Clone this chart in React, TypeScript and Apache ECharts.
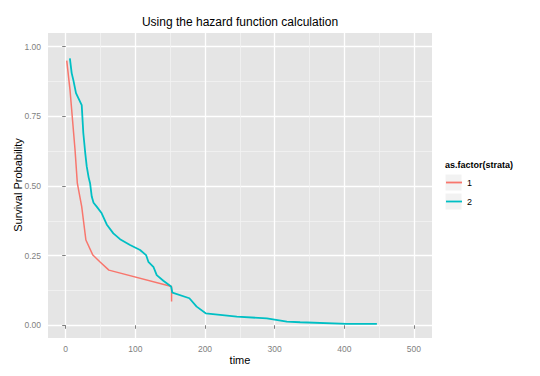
import React, { useEffect, useRef } from "react";
import * as echarts from "echarts";

const xTicks = [0, 100, 200, 300, 400, 500];
const xMinor = [50, 150, 250, 350, 450];
const yTicks = [0, 0.25, 0.5, 0.75, 1];
const yMinor = [0.125, 0.375, 0.625, 0.875];

const strataNames = ["1", "2"];

const time1 = [1.5, 6.2, 13.4, 16.7, 23, 29, 39, 49, 62, 152, 152];
const surv1 = [0.95, 0.845, 0.63, 0.51, 0.426, 0.306, 0.252, 0.228, 0.198, 0.139, 0.085];

const time2 = [6, 8.6, 11, 14.8, 23, 25.3, 28, 30.2, 33, 35, 37.4, 40, 44.5, 51.7, 58.9, 68.4, 78, 92.4, 106.8, 115.4, 118.7, 125.9, 130.7, 140.2, 151.3, 153.2, 177.6, 188, 201, 245.7, 288.8, 317.5, 336.6, 403.7, 446.8];
const surv2 = [0.958, 0.905, 0.88, 0.833, 0.79, 0.69, 0.62, 0.57, 0.53, 0.51, 0.462, 0.44, 0.426, 0.402, 0.362, 0.33, 0.309, 0.288, 0.27, 0.252, 0.228, 0.21, 0.18, 0.16, 0.139, 0.117, 0.097, 0.067, 0.043, 0.031, 0.025, 0.013, 0.011, 0.005, 0.005];

const COLORS = ["#F8766D", "#00BFC4"];
const FONT = "Liberation Sans, Arial, sans-serif";

export default function App() {
  const ref = useRef<HTMLDivElement>(null);
  useEffect(() => {
    if (!ref.current) return;
    const chart = echarts.init(ref.current, null, { renderer: "svg" });
    const xMin = -25.4, xMax = 525.9, yMin = -0.0456, yMax = 1.049;
    const mkX = (minor: boolean) => ({
      type: "value",
      min: xMin,
      max: xMax,
      position: "bottom",
      axisLine: { show: false },
      axisTick: minor
        ? { show: false, customValues: xMinor }
        : { show: true, length: 3.5, lineStyle: { color: "#7F7F7F", width: 1 }, customValues: xTicks },
      axisLabel: minor
        ? { show: false }
        : { show: true, customValues: xTicks, margin: 6, fontSize: 8.5, color: "#7F7F7F", fontFamily: FONT },
      splitLine: { show: true, lineStyle: { color: minor ? "#F2F2F2" : "#FFFFFF", width: minor ? 0.8 : 1.3 } },
    });
    const mkY = (minor: boolean) => ({
      type: "value",
      min: yMin,
      max: yMax,
      position: "left",
      axisLine: { show: false },
      axisTick: minor
        ? { show: false, customValues: yMinor }
        : { show: true, length: 3.5, lineStyle: { color: "#7F7F7F", width: 1 }, customValues: yTicks },
      axisLabel: minor
        ? { show: false }
        : {
            show: true,
            customValues: yTicks,
            margin: 7,
            fontSize: 8.5,
            color: "#7F7F7F",
            fontFamily: FONT,
            formatter: (v: number) => v.toFixed(2),
          },
      splitLine: { show: true, lineStyle: { color: minor ? "#F2F2F2" : "#FFFFFF", width: minor ? 0.8 : 1.3 } },
    });
    chart.setOption({
      animation: false,
      backgroundColor: "#FFFFFF",
      grid: {
        left: 48,
        top: 33,
        right: 108,
        bottom: 38,
        show: true,
        backgroundColor: "#E5E5E5",
        borderWidth: 0,
      },
      xAxis: [mkX(true), mkX(false)],
      yAxis: [mkY(true), mkY(false)],
      legend: {
        orient: "vertical",
        left: 446,
        top: 176.5,
        padding: 0,
        icon: "rect",
        itemWidth: 16,
        itemHeight: 1.8,
        itemGap: 7,
        data: strataNames,
        textStyle: { fontSize: 9, lineHeight: 12, color: "#000000", fontFamily: FONT },
      },
      graphic: [
        { type: "rect", shape: { x: 445, y: 174, width: 17, height: 17 }, style: { fill: "#F2F2F2", stroke: "#FFFFFF" }, z: -1 },
        { type: "rect", shape: { x: 445, y: 193, width: 17, height: 17 }, style: { fill: "#F2F2F2", stroke: "#FFFFFF" }, z: -1 },
        {
          type: "text",
          x: 240,
          y: 22,
          style: { text: "Using the hazard function calculation", fontSize: 12, fill: "#000000", fontFamily: FONT, align: "center", verticalAlign: "middle" },
        },
        {
          type: "text",
          x: 240,
          y: 360,
          style: { text: "time", fontSize: 11, fill: "#000000", fontFamily: FONT, align: "center", verticalAlign: "middle" },
        },
        {
          type: "text",
          x: 18,
          y: 185,
          rotation: Math.PI / 2,
          style: { text: "Survival Probability", fontSize: 11, fill: "#000000", fontFamily: FONT, align: "center", verticalAlign: "middle" },
        },
        {
          type: "text",
          x: 445,
          y: 165,
          style: { text: "as.factor(strata)", fontSize: 9, fontWeight: "bold", fill: "#000000", fontFamily: FONT, align: "left", verticalAlign: "middle" },
        },
      ],
      series: [
        {
          name: strataNames[0],
          type: "line",
          xAxisIndex: 1,
          yAxisIndex: 1,
          data: time1.map((t, i) => [t, surv1[i]]),
          symbol: "none",
          lineStyle: { color: COLORS[0], width: 1.5 },
          itemStyle: { color: COLORS[0] },
          z: 3,
        },
        {
          name: strataNames[1],
          type: "line",
          xAxisIndex: 1,
          yAxisIndex: 1,
          data: time2.map((t, i) => [t, surv2[i]]),
          symbol: "none",
          lineStyle: { color: COLORS[1], width: 1.8 },
          itemStyle: { color: COLORS[1] },
          z: 4,
        },
      ],
    });
    return () => chart.dispose();
  }, []);
  return <div ref={ref} style={{ position: "fixed", left: 0, top: 0, width: 540, height: 376 }} />;
}
